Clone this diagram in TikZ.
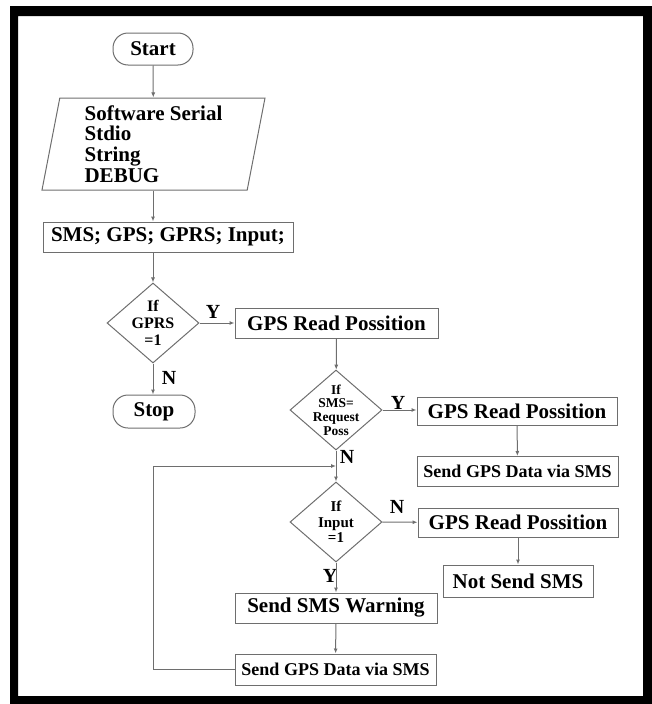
\documentclass[tikz,border=0pt]{standalone}
\usepackage{fontspec}
\setmainfont{Liberation Serif}
\usetikzlibrary{shapes.geometric,arrows.meta}
\definecolor{linegray}{RGB}{110,110,110}
\tikzset{
  box/.style={draw=linegray, line width=1pt, minimum height=30pt, inner sep=0pt, font=\bfseries\fontsize{21}{21}\selectfont},
  smallbox/.style={box, font=\bfseries\fontsize{18}{18}\selectfont},
  terminal/.style={box, rounded corners=15pt, minimum width=80pt, minimum height=32pt},
  decision/.style={diamond, draw=linegray, line width=1pt, minimum width=92pt, minimum height=80pt, inner sep=0pt},
  dtext/.style={align=center, inner sep=0pt},
  flow/.style={draw=linegray, line width=1pt, -{Latex[length=5pt,width=4pt]}},
  yn/.style={inner sep=0pt, font=\bfseries\fontsize{20}{20}\selectfont},
}
\begin{document}
\begin{tikzpicture}[x=1pt, y=-1pt]
  \useasboundingbox (0,0) rectangle (652,704);
  \fill[black, even odd rule] (10,6) rectangle (652,704) (18,16) rectangle (643,696);

  \node[terminal] (start) at (153,49) {Start};
  \node[draw=linegray, line width=1pt, trapezium, trapezium left angle=77, trapezium right angle=103,
        trapezium stretches body, minimum width=223pt, minimum height=92pt, inner sep=0pt,
        align=left, font=\bfseries\fontsize{21}{20.7}\selectfont] (libs) at (153.5,144)
        {Software Serial\\Stdio\\String\\DEBUG};
  \node[box, minimum width=250pt] (vars) at (168,237) {SMS; GPS; GPRS; Input;};
  \node[decision, label={[dtext, font=\bfseries\fontsize{16}{16.7}\selectfont]center:{If\\GPRS\\=1}}] (gprs) at (153,323) {};
  \node[terminal, minimum width=82pt, minimum height=33pt] (stop) at (154,411.5) {Stop};
  \node[box, minimum width=203pt] (read1) at (336.5,323) {GPS Read Possition};
  \node[decision, label={[dtext, font=\bfseries\fontsize{13.5}{13.6}\selectfont]center:{If\\SMS=\\Request\\Poss}}] (sms) at (336,410) {};
  \node[box, minimum width=200pt, minimum height=28pt] (read2) at (517,411) {GPS Read Possition};
  \node[smallbox, minimum width=201pt] (send1) at (517.5,471.5) {Send GPS Data via SMS};
  \node[decision, label={[dtext, font=\bfseries\fontsize{15}{15.7}\selectfont]center:{If\\Input\\=1}}] (inp) at (336,522) {};
  \node[box, minimum width=200pt, minimum height=29pt] (read3) at (518,522.5) {GPS Read Possition};
  \node[box, minimum width=150pt, minimum height=32pt] (notsend) at (518,581) {Not Send SMS};
  \node[box, minimum width=202pt] (warn) at (336,608) {Send SMS Warning};
  \node[smallbox, minimum width=201pt, minimum height=31pt] (send2) at (335.5,669.5) {Send GPS Data via SMS};

  \coordinate (join) at (336,466);
  \coordinate (loopx) at (153,466);

  \node[yn] (ygprs) at (213,312) {Y};
  \node[yn] (ngprs) at (169,378) {N};
  \node[yn] (ysms) at (398,403) {Y};
  \node[yn] (nsms) at (347,457) {N};
  \node[yn] (ninp) at (397,507) {N};
  \node[yn] (yinp) at (330,576) {Y};

  \draw[flow] (start) -- (libs);
  \draw[flow] (libs.south -| start) -- (vars.north -| start);
  \draw[flow] (vars.south -| gprs) -- (gprs);
  \draw[flow] (gprs) -- (read1);
  \draw[flow] (gprs) -- (stop.north -| gprs);
  \draw[flow] (read1) -- (sms);
  \draw[flow] (sms.east) -- (sms.east -| read2.west);
  \draw[flow] (read2) -- (send1);
  \draw[flow] (sms) -- (inp);
  \draw[flow] (inp) -- (read3);
  \draw[flow] (read3) -- (notsend);
  \draw[flow] (inp) -- (warn);
  \draw[flow] (warn) -- (send2);
  \draw[flow] (send2.west) -| (loopx) -- (join);
\end{tikzpicture}
\end{document}
